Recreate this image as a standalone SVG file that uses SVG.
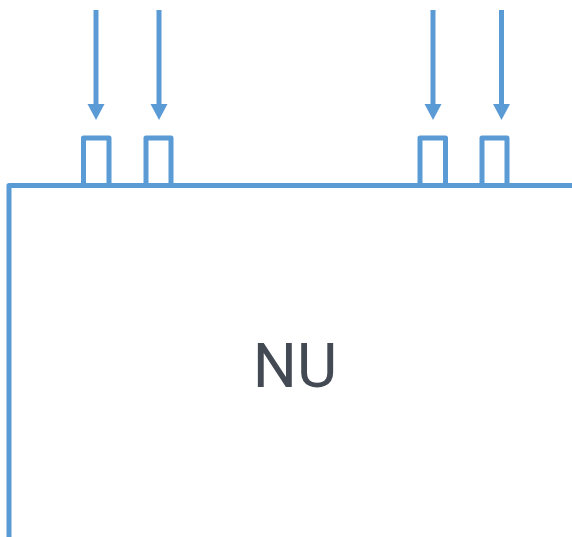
<svg xmlns="http://www.w3.org/2000/svg" width="572" height="537" viewBox="0 0 572 537">
<style>
.ln{fill:none;stroke:#5b9bd5;stroke-width:5;stroke-linejoin:round}
.ar{fill:#5b9bd5}
.lbl{font-family:Roboto,"Liberation Sans",sans-serif;font-size:62px;fill:#434a54;text-anchor:middle}
</style>
<rect width="572" height="537" fill="#fff"/>
<g id="nu">
<path class="ln" d="M9,537 V185.5 H572"/>
<text class="lbl" x="295" y="387">NU</text>
</g>
<g id="port1"><path class="ln" d="M83.5,185.5 V138 H109 V185.5"/></g>
<g id="port2"><path class="ln" d="M146,185.5 V138 H171 V185.5"/></g>
<g id="port3"><path class="ln" d="M420,185.5 V138 H445.5 V185.5"/></g>
<g id="port4"><path class="ln" d="M482,185.5 V138 H507 V185.5"/></g>
<g id="connectors">
<line class="ln" x1="96" y1="10" x2="96" y2="106"/><path class="ar" d="M87.5,104 L104.5,104 L96,120 Z"/>
<line class="ln" x1="159" y1="10" x2="159" y2="106"/><path class="ar" d="M150.5,104 L167.5,104 L159,120 Z"/>
<line class="ln" x1="433" y1="10" x2="433" y2="106"/><path class="ar" d="M424.5,104 L441.5,104 L433,120 Z"/>
<line class="ln" x1="501.5" y1="10" x2="501.5" y2="106"/><path class="ar" d="M493,104 L510,104 L501.5,120 Z"/>
</g>
</svg>
